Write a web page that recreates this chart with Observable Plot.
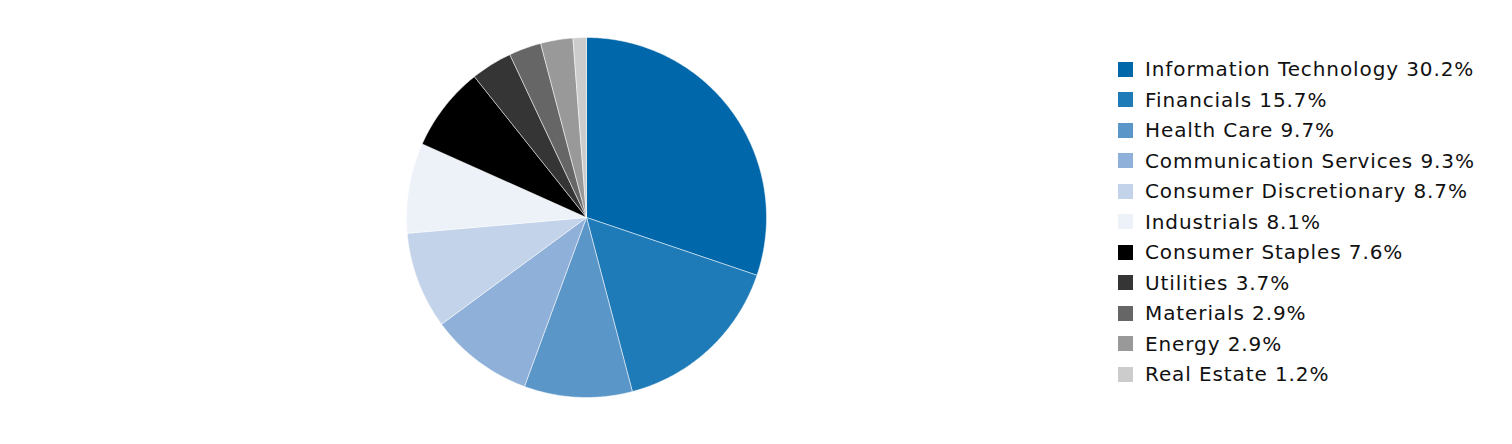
<!DOCTYPE html>
<html>
<head>
<meta charset="utf-8">
<script src="https://cdn.jsdelivr.net/npm/d3@7"></script>
<script src="https://cdn.jsdelivr.net/npm/@observablehq/plot@0.6"></script>
<style>
  html, body { margin: 0; padding: 0; background: #fff; }
  #wrap { position: relative; width: 1512px; height: 444px; }
  #legend { position: absolute; left: 1118px; top: 54px; font-family: "DejaVu Sans", Verdana, sans-serif; font-size: 20px; letter-spacing: 0.9px; color: #111; }
  .item { display: flex; align-items: center; height: 30.5px; white-space: nowrap; }
  .sw { width: 15px; height: 15px; margin-right: 12px; flex: none; }
</style>
</head>
<body>
<div id="wrap"></div>
<script>
const sectors = ["Information Technology", "Financials", "Health Care", "Communication Services", "Consumer Discretionary", "Industrials", "Consumer Staples", "Utilities", "Materials", "Energy", "Real Estate"];
const weights = [30.2, 15.7, 9.7, 9.3, 8.7, 8.1, 7.6, 3.7, 2.9, 2.9, 1.2];
const colors = ["#0067aa", "#1f7bb8", "#5b96c8", "#8fb0d8", "#c3d3ea", "#edf2f9", "#000000", "#353535", "#666666", "#999999", "#cccccc"];

const data = sectors.map((s, i) => ({sector: s, weight: weights[i], label: `${s} ${weights[i].toFixed(1)}%`}));

// Build slice polygons (clockwise from 12 o'clock) in unit-circle coordinates
const arcs = d3.pie().value(d => d.weight).sort(null)(data);
const poly = [];
arcs.forEach(a => {
  const n = Math.max(2, Math.ceil((a.endAngle - a.startAngle) / 0.01));
  poly.push({sector: a.data.sector, x: 0, y: 0});
  for (let k = 0; k <= n; k++) {
    const t = a.startAngle + (a.endAngle - a.startAngle) * k / n;
    poly.push({sector: a.data.sector, x: Math.sin(t), y: Math.cos(t)});
  }
  poly.push({sector: a.data.sector, x: 0, y: 0});
});

const chart = Plot.plot({
  width: 1512,
  height: 444,
  marginLeft: 406,
  marginRight: 746,
  marginTop: 37,
  marginBottom: 47,
  x: {domain: [-1, 1], axis: null},
  y: {domain: [-1, 1], axis: null},
  color: {domain: sectors, range: colors},
  marks: [
    Plot.line(poly, {x: "x", y: "y", z: "sector", fill: "sector", stroke: "white", strokeWidth: 0.5, curve: "linear"})
  ]
});

const wrap = document.getElementById("wrap");
wrap.appendChild(chart);

const legend = document.createElement("div");
legend.id = "legend";
data.forEach((d, i) => {
  const it = document.createElement("div");
  it.className = "item";
  const sw = document.createElement("span");
  sw.className = "sw";
  sw.style.background = colors[i];
  const tx = document.createElement("span");
  tx.textContent = d.label;
  it.appendChild(sw);
  it.appendChild(tx);
  legend.appendChild(it);
});
wrap.appendChild(legend);
</script>
</body>
</html>
